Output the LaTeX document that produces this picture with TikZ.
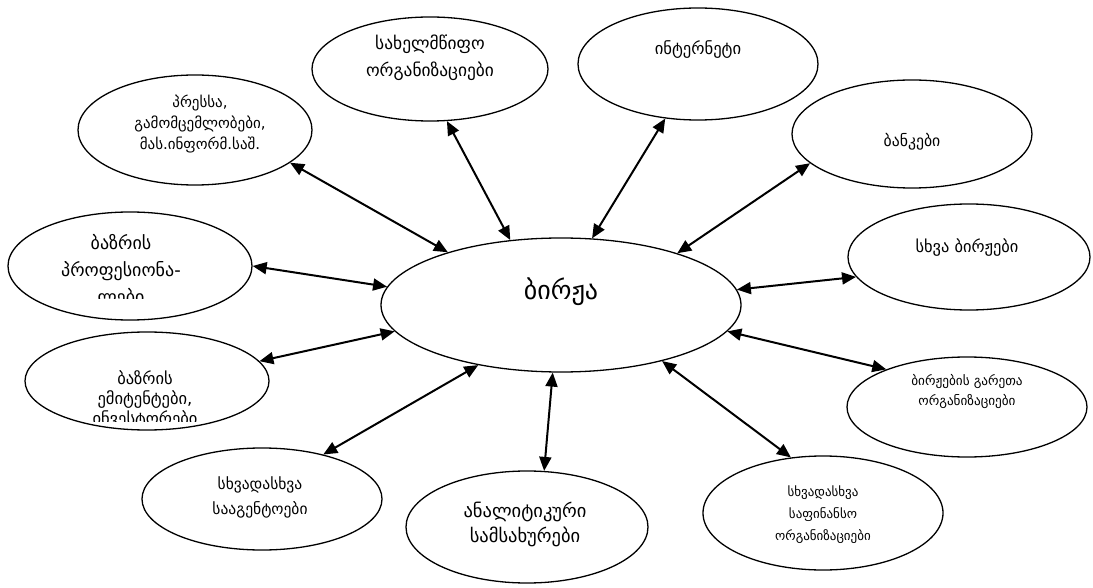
\documentclass[tikz,border=0pt]{standalone}
\usepackage{fontspec}
\newfontfamily\geo{DejaVu Sans}
\usetikzlibrary{shapes.geometric,arrows.meta}
\begin{document}
\begin{tikzpicture}[x=1pt,y=-1pt,
  oval/.style={draw,line width=1.3pt,ellipse,inner sep=0pt},
  lbl/.style={align=center,inner sep=0pt},
  link/.style={line width=2pt,{Triangle[length=14pt,width=12pt]}-{Triangle[length=14pt,width=12pt]}}]
\useasboundingbox (0,0) rectangle (1093,588);
% ellipses
\node[oval,minimum width=360pt,minimum height=134pt] (birja) at (561,305) {};
\node[oval,minimum width=234pt,minimum height=110pt] (press) at (195,130) {};
\node[oval,minimum width=236pt,minimum height=104pt] (state) at (430,69) {};
\node[oval,minimum width=240pt,minimum height=112pt] (inet) at (698,64) {};
\node[oval,minimum width=240pt,minimum height=108pt] (banks) at (912,134) {};
\node[oval,minimum width=242pt,minimum height=106pt] (other) at (969,257) {};
\node[oval,minimum width=240pt,minimum height=100pt] (nonex) at (967,407) {};
\node[oval,minimum width=240pt,minimum height=114pt] (fin) at (823,513) {};
\node[oval,minimum width=242pt,minimum height=112pt] (anal) at (527,527) {};
\node[oval,minimum width=240pt,minimum height=102pt] (agents) at (262,499) {};
\node[oval,minimum width=244pt,minimum height=98pt] (emit) at (147,381) {};
\node[oval,minimum width=244pt,minimum height=108pt] (prof) at (130,266) {};
% texts
\node[lbl,font=\geo\fontsize{26}{30}\selectfont] (tbirja) at (561,292) {ბირჟა};
\node[lbl,font=\geo\fontsize{15}{21}\selectfont] (tpress) at (200,124) {პრესსა,\\გამომცემლობები,\\მას.ინფორმ.საშ.};
\node[lbl,font=\geo\fontsize{17.4}{27}\selectfont] (tstate) at (430,58) {სახელმწიფო\\ორგანიზაციები};
\node[lbl,font=\geo\fontsize{16.6}{20}\selectfont] (tinet) at (698,50) {ინტერნეტი};
\node[lbl,font=\geo\fontsize{15.7}{20}\selectfont] (tbanks) at (912,142) {ბანკები};
\node[lbl,font=\geo\fontsize{16.4}{20}\selectfont] (tother) at (967,248) {სხვა ბირჟები};
\node[lbl,font=\geo\fontsize{13.2}{20}\selectfont] (tnonex) at (967,392) {ბირჟების გარეთა\\ორგანიზაციები};
\node[lbl,font=\geo\fontsize{13}{22}\selectfont] (tfin) at (823,515) {სხვადასხვა\\საფინანსო\\ორგანიზაციები};
\node[lbl,font=\geo\fontsize{18.5}{25}\selectfont] (tanal) at (525,524) {ანალიტიკური\\სამსახურები};
\node[lbl,font=\geo\fontsize{15.5}{25}\selectfont] (tagents) at (260,497) {სხვადასხვა\\სააგენტოები};
\begin{scope}
\clip (20,330) rectangle (280,421);
\node[lbl,font=\geo\fontsize{16.5}{20}\selectfont] (temit) at (145,400) {ბაზრის\\ემიტენტები,\\ინვესტორები};
\end{scope}
\begin{scope}
\clip (0,210) rectangle (260,299);
\node[lbl,font=\geo\fontsize{18}{27}\selectfont] (tprof) at (121,271) {ბაზრის\\პროფესიონა-\\ლები};
\end{scope}
% connectors
\draw[link] (press.-19) -- (birja.155);
\draw[link] (state.-72) -- (birja.128);
\draw[link] (inet.-121) -- (birja.65);
\draw[link] (banks.196) -- (birja.24);
\draw[link] (other.190) -- (birja.5);
\draw[link] (nonex.155) -- (birja.-9.5);
\draw[link] (fin.120) -- (birja.-29.5);
\draw[link] (anal.73) -- (birja.-97);
\draw[link] (agents.36) -- (birja.-144);
\draw[link] (emit.10) -- (birja.-171);
\draw[link] (prof.0.5) -- (birja.174);
\end{tikzpicture}
\end{document}
